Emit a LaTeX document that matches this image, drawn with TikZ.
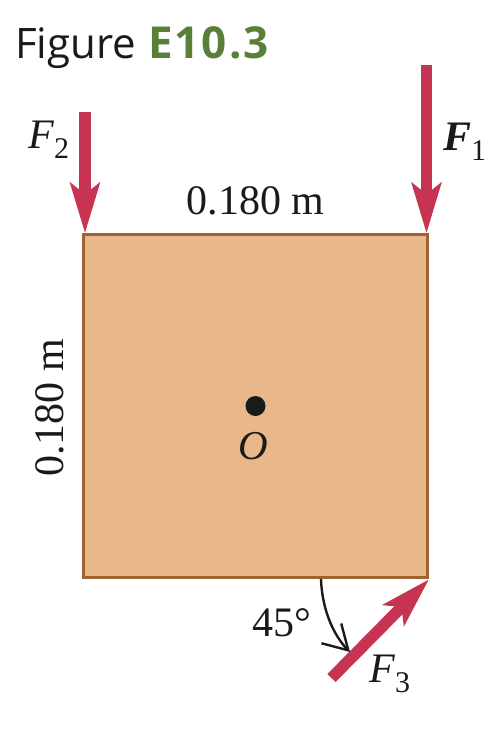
\documentclass[tikz,border=0pt]{standalone}
\usepackage{fontspec}
\setmainfont{Liberation Serif}
\newfontfamily\titlefont{Open Sans}
\newfontfamily\titlebold[LetterSpace=4.5]{Open Sans Bold}
\usetikzlibrary{arrows.meta}
\definecolor{platefill}{HTML}{E9B88A}
\definecolor{plateedge}{HTML}{A0622F}
\definecolor{forcered}{HTML}{C73452}
\definecolor{titlegreen}{HTML}{5A7F38}
\definecolor{inkblack}{HTML}{1A1A1A}
\newcommand{\subdigit}[1]{\raisebox{-10pt}{\fontsize{30}{30}\selectfont #1}}
\tikzset{
  plate/.style={draw=plateedge,fill=platefill,line width=2.8pt,inner sep=0pt,minimum width=344pt,minimum height=343pt},
  force/.style={draw=forcered,line width=11.5pt,-{Stealth[length=50pt,width=29pt,inset=11pt,fill=forcered]}},
  lbl/.style={inner sep=0pt,text=inkblack,font=\fontsize{42}{42}\selectfont},
  sym/.style={inner sep=0pt,text=inkblack,anchor=base west,font=\fontsize{42}{42}\selectfont},
  pivot/.style={circle,fill=inkblack,minimum size=20pt,inner sep=0pt},
  swing/.style={draw=inkblack,line width=2.4pt,-{Straight Barb[length=24pt,width=28pt,line width=2.4pt]}}
}
\begin{document}
\begin{tikzpicture}[x=1pt,y=-1pt]
\useasboundingbox (0,0) rectangle (488,732);
\fill[white] (0,0) rectangle (488,732);
\node[plate] (P) at (255.7,406.3) {};
\node[pivot] (O) at (255.5,406) {};
\node[inner sep=0pt,text=inkblack,font=\fontsize{41}{41}\selectfont\itshape] (Olbl) at (253,446) {O};
\node[anchor=base west,inner sep=0pt,text=inkblack,font=\titlefont\fontsize{42}{42}\selectfont] (T1) at (15,58) {Figure};
\node[anchor=base west,inner sep=0pt,text=titlegreen,font=\titlebold\fontsize{44}{44}\selectfont] (T2) at (148,58) {E10.3};
\coordinate (F2s) at (85,112);
\coordinate (F1s) at (426.5,65);
\coordinate (F3s) at (331.5,678);
\draw[force] (F2s) -- (F2s |- P.north);
\draw[force] (F1s) -- (F1s |- P.north);
\draw[force] (F3s) -- (P.south east);
\node[lbl] (W) at (255.5,201) {0.180 m};
\node[lbl,rotate=90] (H) at (50,408) {0.180 m};
\node[sym] (L2) at (28,148) {\textit{F}\subdigit{2}};
\node[sym] (L1) at (443,150) {\textbf{\textit{F}}\subdigit{1}};
\node[sym] (L3) at (369,682) {\textit{F}\subdigit{3}};
\node[lbl] (A) at (282,623) {45°};
\coordinate (S) at (321,579);
\coordinate (E) at (350,652);
\draw[swing] (S) .. controls (322,610) and (334,636) .. (E);
\end{tikzpicture}
\end{document}
